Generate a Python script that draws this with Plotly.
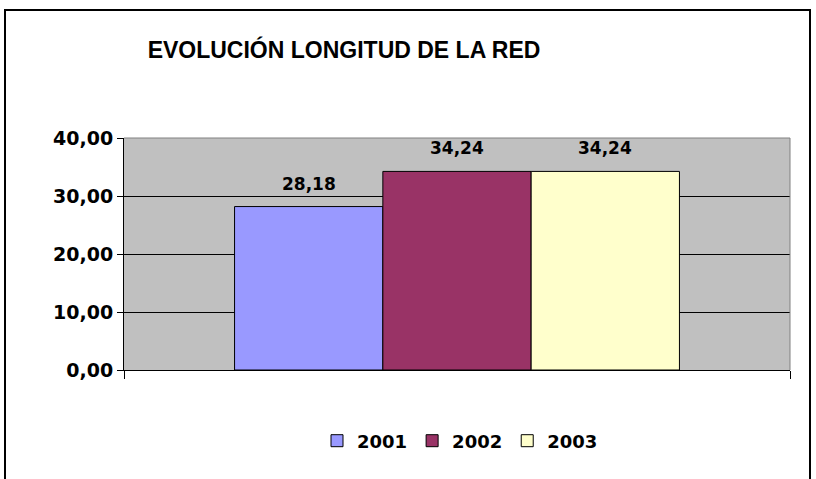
import plotly.graph_objects as go

title = "EVOLUCIÓN LONGITUD DE LA RED"
category = ["Longitud"]
years = ["2001", "2002", "2003"]
values = [28.18, 34.24, 34.24]
colors = ["#9999FF", "#993366", "#FFFFCC"]
y_ticks = [0, 10, 20, 30, 40]

W, H = 816, 479
ml, mr, mt, mb = 124, 26, 138, 109
pw = W - ml - mr
ph = H - mt - mb
BARGAP = 0.332

def px2x(sx):
    return (sx - ml) / pw

def py2y(sy):
    return (H - mb - sy) / ph

num_font = "DejaVu Sans, Liberation Sans, Arial"

fig = go.Figure()
bar_w = pw * (1 - BARGAP) / len(years)
for i, (yr, v, c) in enumerate(zip(years, values, colors)):
    fig.add_trace(go.Bar(
        x=category, y=[v], name=yr,
        marker=dict(color=c, line=dict(color="black", width=1)),
    ))
    fig.add_annotation(
        x=0, y=v, xref="x", yref="y",
        text="<b>" + f"{v:.2f}".replace(".", ",") + "</b>",
        showarrow=False, yanchor="bottom",
        xshift=(i - (len(years) - 1) / 2) * bar_w, yshift=11,
        font=dict(family=num_font, size=17, color="black"),
    )

fig.update_layout(
    width=W, height=H,
    margin=dict(l=ml, r=mr, t=mt, b=mb),
    paper_bgcolor="white",
    plot_bgcolor="#C0C0C0",
    barmode="group", bargap=BARGAP, bargroupgap=0,
    separators=",.",
    font=dict(family="Liberation Sans, Arial", color="black"),
    title=dict(
        text="<b>" + title + "</b>",
        x=px2x(344), xref="paper", xanchor="center",
        y=1 - 50 / H, yanchor="middle",
        font=dict(family="Liberation Sans, Arial", size=23, color="black"),
    ),
    showlegend=True,
    legend=dict(
        orientation="h", x=px2x(460), xanchor="center",
        y=py2y(441), yanchor="middle",
        font=dict(family=num_font, size=18, color="black", weight="bold"),
        itemwidth=30, tracegroupgap=0,
    ),
)

fig.update_yaxes(
    range=[0, 40], tickvals=y_ticks, tickformat=".2f",
    showgrid=True, gridcolor="black", gridwidth=1,
    showline=True, linecolor="black", linewidth=1,
    ticks="outside", ticklen=6, tickcolor="black",
    tickfont=dict(family=num_font, size=19, color="black", weight="bold"),
    zeroline=False,
)
fig.update_xaxes(
    type="category", range=[-0.5, 0.5],
    showticklabels=False, showline=True, linecolor="black", linewidth=1,
    ticks="outside", tickson="boundaries", ticklen=8, tickcolor="black",
    showgrid=False,
)

# plot area gray top/right border
fig.add_shape(type="path", xref="paper", yref="paper",
              path="M 0,1 L 1,1 L 1,0", line=dict(color="#808080", width=1))
# outer chart frame
fig.add_shape(type="path", xref="paper", yref="paper",
              path=f"M {px2x(5)},{py2y(490)} L {px2x(5)},{py2y(10)} L {px2x(810)},{py2y(10)} L {px2x(810)},{py2y(490)}",
              line=dict(color="black", width=2))

fig.write_html("out.html", config={"displayModeBar": False},
               post_script="document.body.style.margin='0';")
